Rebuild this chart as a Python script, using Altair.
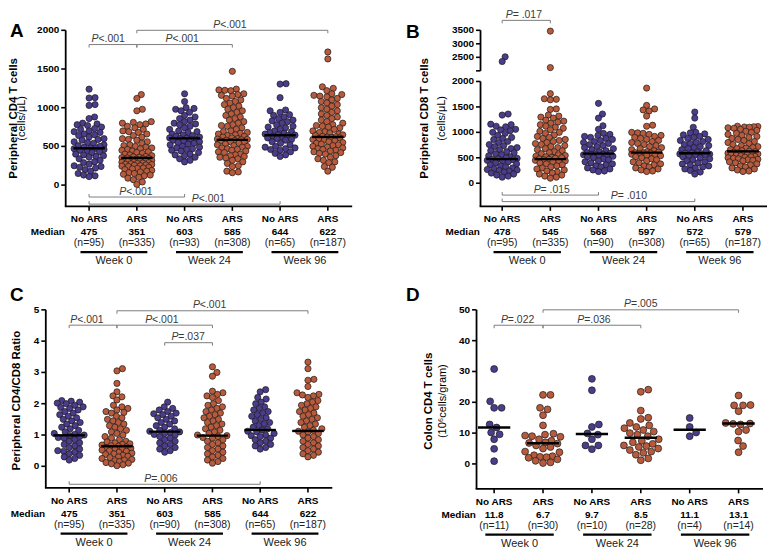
import altair as alt
import pandas as pd

FONT = "Liberation Sans"
PURPLE = "#4b3c8c"
ORANGE = "#b85a3c"

ARMS = ["No ARS", "ARS", "No ARS", "ARS", "No ARS", "ARS"]
WEEKS = ["Week 0", "Week 24", "Week 96"]

# ---------------- Panel A : peripheral CD4 (cells/uL) ----------------
A_g0 = [1240, 1130, 1125, 1040, 1030, 880, 860, 800, 790, 780, 770, 750, 730, 720, 700, 690, 680, 660, 650,
        640, 620, 600, 590, 580, 560, 550, 540, 520, 510, 500, 490, 480, 475, 470, 460, 450, 440, 430, 420,
        400, 390, 380, 370, 360, 340, 320, 300, 290, 270, 250, 240, 230, 220, 200, 180, 150, 130, 120, 110]
A_g1 = [1170, 1120, 980, 960, 820, 810, 800, 790, 780, 760, 740, 720, 700, 690, 680, 660, 640, 620, 600, 590,
        580, 560, 540, 520, 510, 500, 490, 480, 470, 460, 450, 440, 430, 420, 410, 400, 390, 380, 370, 365,
        360, 355, 350, 345, 340, 335, 330, 325, 320, 315, 310, 305, 300, 295, 290, 285, 280, 275, 270, 265,
        260, 255, 250, 245, 240, 230, 220, 215, 210, 200, 190, 180, 170, 160, 150, 140, 130, 120, 100, 90,
        70, 40, 10]
A_g2 = [1180, 1080, 1000, 990, 980, 960, 940, 900, 880, 860, 840, 820, 800, 790, 780, 760, 740, 720, 700, 690,
        680, 660, 650, 640, 630, 620, 610, 605, 600, 595, 590, 580, 570, 560, 550, 540, 530, 520, 500, 490,
        480, 470, 460, 450, 440, 420, 400, 390, 380, 360, 340, 320, 300]
A_g3 = [1470, 1240, 1230, 1225, 1220, 1180, 1170, 1160, 1150, 1120, 1100, 1080, 1060, 1040, 1020, 1000, 980,
        960, 940, 920, 900, 880, 860, 840, 820, 800, 780, 770, 760, 740, 720, 700, 690, 680, 670, 660, 650,
        640, 630, 620, 610, 600, 595, 590, 585, 580, 575, 570, 560, 550, 540, 530, 520, 510, 500, 490, 480,
        470, 460, 450, 440, 430, 420, 400, 390, 380, 370, 360, 350, 340, 320, 300, 280, 250, 240, 180, 170, 160]
A_g4 = [1310, 1305, 1130, 970, 960, 940, 910, 900, 880, 860, 840, 830, 820, 800, 780, 760, 750, 740, 720, 700,
        690, 680, 670, 660, 650, 645, 640, 630, 620, 610, 600, 590, 580, 560, 540, 520, 500, 490, 480, 470,
        460, 450, 430, 410, 390, 370]
A_g5 = [1720, 1630, 1270, 1250, 1220, 1180, 1170, 1160, 1150, 1140, 1120, 1100, 1080, 1060, 1040, 1020, 1000,
        980, 960, 940, 920, 900, 880, 860, 840, 820, 800, 780, 770, 760, 750, 740, 720, 700, 690, 680, 670,
        660, 650, 640, 630, 625, 620, 615, 610, 600, 590, 580, 570, 560, 550, 540, 530, 520, 510, 500, 490,
        480, 470, 460, 450, 440, 430, 420, 410, 400, 380, 360, 340, 320, 300, 290, 240, 230, 180]
A_median = [475, 351, 603, 585, 644, 622]
A_median_txt = ["475", "351", "603", "585", "644", "622"]
A_n = ["(n=95)", "(n=335)", "(n=93)", "(n=308)", "(n=65)", "(n=187)"]
A_ticks = [0, 500, 1000, 1500, 2000]
# (from group, to group, level, p label, text centre, tick direction)
A_brackets = [(0, 1, 1816, "P<.001", 0.4, "down"), (1, 3, 1816, "P<.001", 1.95, "down"),
              (1, 5, 2000, "P<.001", 2.95, "down"), (0, 2, -154, "P<.001", 0.98, "up"),
              (0, 4, -246, "P<.001", 2.5, "up")]

# ---------------- Panel B : peripheral CD8 (cells/uL), broken axis ----------------
B_g0 = [2520, 2345, 1360, 1340, 1160, 1150, 1120, 1110, 1060, 1050, 1030, 1000, 980, 940, 900, 880, 860, 820,
        800, 760, 740, 720, 700, 680, 660, 640, 620, 600, 580, 560, 540, 520, 500, 490, 480, 470, 460, 450,
        440, 420, 400, 380, 360, 340, 320, 300, 280, 270, 260, 250, 240, 220, 200, 180, 160, 140, 120]
B_g1 = [3470, 2120, 1760, 1660, 1650, 1640, 1460, 1450, 1340, 1320, 1300, 1280, 1240, 1220, 1200, 1180, 1150,
        1120, 1100, 1080, 1050, 1020, 1000, 980, 950, 920, 900, 880, 860, 840, 820, 800, 780, 760, 740, 720,
        700, 680, 660, 640, 620, 600, 580, 560, 545, 530, 520, 510, 500, 490, 480, 470, 460, 450, 440, 430,
        420, 400, 380, 360, 340, 320, 300, 280, 260, 240, 220, 200, 180, 160, 140, 120, 100]
B_g2 = [1570, 1360, 1280, 1130, 1060, 980, 960, 940, 920, 900, 880, 860, 840, 820, 800, 780, 760, 740, 720, 700,
        680, 660, 640, 620, 600, 590, 580, 570, 565, 560, 550, 540, 530, 520, 500, 480, 460, 440, 420, 400,
        380, 360, 340, 320, 300, 280, 260, 240, 230]
B_g3 = [1870, 1530, 1460, 1440, 1420, 1320, 1140, 1120, 1000, 990, 980, 960, 940, 920, 900, 880, 860, 840, 820,
        800, 780, 760, 740, 720, 700, 680, 660, 640, 620, 610, 600, 597, 590, 580, 570, 560, 550, 540, 520,
        500, 480, 460, 440, 420, 400, 380, 360, 340, 320, 300, 280, 260, 240, 230]
B_g4 = [1400, 1280, 1100, 1000, 990, 970, 950, 920, 900, 880, 860, 840, 820, 800, 780, 760, 740, 720, 700, 680,
        660, 640, 620, 600, 590, 580, 575, 570, 560, 550, 540, 520, 500, 480, 460, 440, 420, 400, 380, 360,
        340, 320, 300, 280, 250, 220, 180]
B_g5 = [1120, 1115, 1110, 1105, 1100, 1090, 1080, 1060, 1040, 1020, 1000, 980, 960, 940, 920, 900, 880, 860,
        840, 820, 800, 780, 760, 740, 720, 700, 690, 680, 660, 640, 630, 620, 610, 600, 590, 585, 580, 575,
        570, 560, 550, 540, 530, 520, 510, 500, 490, 480, 470, 460, 450, 440, 420, 400, 380, 360, 340, 320,
        300, 280, 260, 240, 230]
B_median = [474, 474, 582, 601, 588, 626]
B_median_txt = ["478", "545", "568", "597", "572", "579"]
B_n = ["(n=95)", "(n=335)", "(n=90)", "(n=308)", "(n=65)", "(n=187)"]
B_ticks = [0, 500, 1000, 1500, 2000, 2500, 3000, 3500]
B_brackets = [(0, 1, 3868, "P = .017", 0.42, "down"), (0, 2, -233, "P = .015", 1.0, "up"),
              (0, 4, -361, "P = .010", 2.6, "up")]
B_break = 2000          # axis is cut above this value
B_gap = 209             # size of the cut, in lower-segment units
B_upper_ratio = 0.531   # upper segment is compressed by this factor

# ---------------- Panel C : CD4/CD8 ratio ----------------
C_g0 = [2.1, 2.08, 2.05, 2.02, 2.0, 1.95, 1.9, 1.88, 1.85, 1.8, 1.75, 1.7, 1.65, 1.6, 1.55, 1.5, 1.45, 1.4,
        1.35, 1.3, 1.25, 1.2, 1.15, 1.1, 1.05, 1.02, 1.0, 0.98, 0.95, 0.92, 0.9, 0.85, 0.8, 0.75, 0.7, 0.65,
        0.6, 0.55, 0.5, 0.48, 0.45, 0.4, 0.35, 0.3, 0.25, 0.2]
C_g1 = [3.12, 3.05, 2.65, 2.38, 2.25, 2.22, 2.12, 1.95, 1.9, 1.85, 1.8, 1.75, 1.72, 1.7, 1.6, 1.55, 1.5, 1.45,
        1.4, 1.35, 1.3, 1.25, 1.2, 1.15, 1.1, 1.05, 1.0, 0.95, 0.9, 0.85, 0.8, 0.78, 0.75, 0.72, 0.7, 0.68,
        0.66, 0.64, 0.62, 0.6, 0.58, 0.56, 0.54, 0.52, 0.5, 0.48, 0.45, 0.42, 0.4, 0.38, 0.35, 0.32, 0.3,
        0.28, 0.25, 0.22, 0.2, 0.18, 0.15, 0.12, 0.1, 0.08, 0.05, 0.02]
C_g2 = [2.05, 1.9, 1.85, 1.8, 1.75, 1.7, 1.68, 1.65, 1.6, 1.55, 1.5, 1.45, 1.4, 1.35, 1.3, 1.25, 1.2, 1.15,
        1.12, 1.1, 1.08, 1.05, 1.02, 1.0, 0.95, 0.9, 0.85, 0.8, 0.75, 0.7, 0.65, 0.6, 0.55, 0.5, 0.45]
C_g3 = [3.18, 3.0, 2.88, 2.4, 2.35, 2.3, 2.25, 2.2, 2.1, 2.0, 1.95, 1.9, 1.85, 1.8, 1.75, 1.7, 1.65, 1.6,
        1.55, 1.5, 1.45, 1.4, 1.35, 1.3, 1.25, 1.2, 1.15, 1.1, 1.05, 1.0, 0.98, 0.95, 0.92, 0.9, 0.85, 0.8,
        0.75, 0.7, 0.65, 0.6, 0.55, 0.5, 0.45, 0.4, 0.35, 0.3, 0.25, 0.2, 0.15, 0.1]
C_g4 = [2.45, 2.38, 2.2, 2.15, 2.05, 2.0, 1.9, 1.85, 1.8, 1.75, 1.7, 1.65, 1.6, 1.55, 1.5, 1.45, 1.4, 1.35,
        1.3, 1.25, 1.2, 1.16, 1.12, 1.1, 1.05, 1.0, 0.98, 0.95, 0.9, 0.85, 0.8, 0.75, 0.7, 0.65, 0.6, 0.55]
C_g5 = [3.33, 3.12, 2.78, 2.75, 2.55, 2.35, 2.3, 2.28, 2.25, 2.2, 2.1, 2.05, 2.0, 1.95, 1.9, 1.85, 1.8, 1.75,
        1.7, 1.65, 1.6, 1.55, 1.5, 1.45, 1.4, 1.35, 1.3, 1.25, 1.2, 1.15, 1.12, 1.1, 1.05, 1.0, 0.95, 0.9,
        0.85, 0.8, 0.75, 0.7, 0.65, 0.6, 0.55, 0.5, 0.45, 0.4, 0.35, 0.3]
C_median = [0.99, 0.64, 1.11, 0.98, 1.16, 1.13]
C_median_txt = ["475", "351", "603", "585", "644", "622"]
C_n = ["(n=95)", "(n=335)", "(n=90)", "(n=308)", "(n=65)", "(n=187)"]
C_ticks = [0, 1, 2, 3, 4, 5]
C_brackets = [(0, 1, 4.51, "P<.001", 0.37, "down"), (1, 3, 4.51, "P<.001", 1.94, "down"),
              (2, 3, 3.95, "P=.037", 2.49, "down"), (1, 5, 4.97, "P<.001", 2.94, "down"),
              (0, 4, -0.574, "P=.006", 1.92, "up")]

# ---------------- Panel D : colon CD4 (10^6 cells/gram) ----------------
D_g0 = [30.8, 20.3, 18.2, 18.2, 12.8, 11.8, 10.2, 9.6, 8.0, 4.9, 0.9]
D_g1 = [22.4, 22.4, 18.2, 17.7, 15.8, 12.5, 9.8, 9.5, 9.2, 9.0, 8.8, 8.0, 7.5, 7.0, 6.8, 6.6, 6.0, 5.5, 5.0,
        4.0, 3.8, 2.8, 2.5, 2.3, 2.2, 2.0, 1.5, 1.0, 0.5, 0.3]
D_g2 = [27.6, 23.9, 12.8, 12.0, 9.9, 9.5, 8.0, 6.0, 6.0, 4.8]
D_g3 = [24.1, 23.4, 17.3, 15.0, 14.6, 13.3, 12.5, 12.0, 11.6, 11.0, 10.5, 10.0, 9.5, 9.0, 8.0, 7.5, 7.0, 6.5,
        6.0, 5.8, 5.5, 5.0, 4.5, 4.0, 3.6, 3.0, 1.8, 1.2]
D_g4 = [14.9, 12.0, 10.2, 9.0]
D_g5 = [22.2, 19.1, 19.0, 19.0, 17.1, 13.3, 13.1, 13.0, 12.8, 11.0, 10.5, 7.6, 5.8, 3.8]
D_median = [11.8, 6.7, 9.7, 8.5, 11.1, 13.1]
D_median_txt = ["11.8", "6.7", "9.7", "8.5", "11.1", "13.1"]
D_n = ["(n=11)", "(n=30)", "(n=10)", "(n=28)", "(n=4)", "(n=14)"]
D_ticks = [0, 10, 20, 30, 40, 50]
D_brackets = [(0, 1, 45.0, "P=.022", 0.48, "down"), (1, 3, 45.0, "P=.036", 2.04, "down"),
              (1, 5, 50.0, "P=.005", 3.0, "down")]

# ---------------------------------------------------------------------
CW = {"P": 0.667, "<": 0.584, "=": 0.584, ".": 0.278, " ": 0.278, "\u00a0": 0.278}
PFS = 10.5
AXW = 1.8


def text_w(s, fs):
    return sum(CW.get(c, 0.556) for c in s) * fs


def ident(v):
    return v


def b_transform(v):
    if v <= B_break:
        return v
    return B_break + B_gap + (v - B_break) * B_upper_ratio


def swarm(pix, maxw, mind):
    order = sorted(range(len(pix)), key=lambda i: pix[i])
    cands = [0.0]
    k = 0.5
    while k <= maxw:
        cands += [k, -k]
        k += 0.5
    placed = []
    res = [0.0] * len(pix)
    for i in order:
        y = pix[i]
        near = [(px, py) for px, py in placed if abs(py - y) < mind]
        chosen, best, bestc = None, -1, 0.0
        for c in cands:
            d = min([((c - px) ** 2 + (y - py) ** 2) ** 0.5 for px, py in near], default=99)
            if d >= mind:
                chosen = c
                break
            if d > best:
                best, bestc = d, c
        if chosen is None:
            chosen = bestc
        placed.append((chosen, y))
        res[i] = chosen
    return res


def one(**kw):
    return pd.DataFrame({k: [v] for k, v in kw.items()})


def panel(letter, letter_xy, titles, title_yf, groups, med, med_txt, ns, brackets, xdom, ydom, H, W,
          ticks, dot, maxw, mind, lead=0, tf=ident, segments=None, blank_ticks=()):
    ppy = H / (ydom[1] - ydom[0])
    ppx = W / (xdom[1] - xdom[0])
    xdom_full = [xdom[0] - lead / ppx, xdom[1]]
    WW = W + lead
    xs = alt.Scale(domain=xdom_full, nice=False, zero=False)
    ys = alt.Scale(domain=ydom, nice=False, zero=False)
    X = lambda f="x": alt.X(f + ":Q", scale=xs, axis=None)
    Y = lambda f="y": alt.Y(f + ":Q", scale=ys, axis=None)

    rows = []
    for g, vals in enumerate(groups):
        pix = [tf(v) * ppy for v in vals]
        offs = swarm(pix, maxw, mind)
        for v, o in zip(vals, offs):
            rows.append({"x": g + o / ppx, "y": tf(v), "arm": ARMS[g]})
    df = pd.DataFrame(rows)

    layers = []
    # ---- y axis (line, ticks, labels) drawn through the y scale
    if segments is None:
        segments = ([ydom[0]], [ydom[1]])
    dfa = pd.DataFrame({"y": segments[0], "y2": segments[1]})
    layers.append(alt.Chart(dfa).mark_rule(color="black", strokeWidth=AXW).encode(
        x=alt.value(lead), y=Y(), y2="y2:Q"))
    dft = pd.DataFrame({"y": [tf(t) for t in ticks] + list(blank_ticks),
                        "lab": [str(t) for t in ticks] + [""] * len(blank_ticks)})
    layers.append(alt.Chart(dft).mark_rule(color="black", strokeWidth=1.6).encode(
        x=alt.value(lead - 4.5), x2=alt.value(lead), y=Y()))
    layers.append(alt.Chart(dft).mark_text(font=FONT, fontSize=10, fontWeight="bold", align="right",
                                           baseline="middle", color="black").encode(
        x=alt.value(lead - 6.5), y=Y(), text="lab:N"))
    # ---- x axis
    layers.append(alt.Chart(one(a=0)).mark_rule(color="black", strokeWidth=AXW).encode(
        x=alt.value(lead - 0.9), x2=alt.value(WW), y=alt.value(H)))
    dfg = pd.DataFrame({"x": list(range(6))})
    layers.append(alt.Chart(dfg).mark_rule(color="black", strokeWidth=1.6).encode(
        x=X(), y=alt.value(H), y2=alt.value(H + 4.5)))

    # ---- data points
    layers.append(alt.Chart(df).mark_circle(size=dot, stroke="#1a1a1a", strokeWidth=0.7, opacity=1).encode(
        x=X(), y=Y(),
        color=alt.Color("arm:N", scale=alt.Scale(domain=["No ARS", "ARS"], range=[PURPLE, ORANGE]), legend=None)))

    # ---- medians
    dfm = pd.DataFrame({"x": [g - 0.33 for g in range(6)], "x2": [g + 0.33 for g in range(6)],
                        "y": [tf(m) for m in med]})
    layers.append(alt.Chart(dfm).mark_rule(color="black", strokeWidth=2.4).encode(x=X(), x2="x2:Q", y=Y()))

    # ---- significance brackets (italic P, upright remainder)
    seg, ptxt = [], []
    for a, b, lev, lab, cx, d in brackets:
        lt = tf(lev)
        tick = 3.0 / ppy
        end = lt - tick if d == "down" else lt + tick
        seg.append({"x": a, "x2": b, "y": lt, "y2": lt})
        seg.append({"x": a, "x2": a, "y": lt, "y2": end})
        seg.append({"x": b, "x2": b, "y": lt, "y2": end})
        p_part = "P\u00a0" if lab[1] == " " else "P"
        rest = lab[len(p_part):]
        wt = text_w(lab, PFS)
        anchor = cx + (-wt / 2 + text_w(p_part, PFS)) / ppx
        ptxt.append({"x": anchor, "y": lt, "P": p_part, "rest": rest})
    layers.append(alt.Chart(pd.DataFrame(seg)).mark_rule(color="#7d7d7d", strokeWidth=1).encode(
        x=X(), x2="x2:Q", y=Y(), y2="y2:Q"))
    dfp = pd.DataFrame(ptxt)
    layers.append(alt.Chart(dfp).mark_text(font=FONT, fontSize=PFS, fontStyle="italic", align="right",
                                           baseline="alphabetic", dy=-2.5, color="#3a3a3a").encode(
        x=X(), y=Y(), text="P:N"))
    layers.append(alt.Chart(dfp).mark_text(font=FONT, fontSize=PFS, align="left", baseline="alphabetic",
                                           dy=-2.5, color="#3a3a3a").encode(x=X(), y=Y(), text="rest:N"))

    # ---- category labels under the axis
    dfl = pd.DataFrame({"x": list(range(6)), "arm": ARMS, "med": med_txt, "n": ns})
    layers.append(alt.Chart(dfl).mark_text(font=FONT, fontSize=10, fontWeight="bold", baseline="middle",
                                           color="black").encode(x=X(), y=alt.value(H + 13), text="arm:N"))
    layers.append(alt.Chart(dfl).mark_text(font=FONT, fontSize=10, fontWeight="bold", baseline="middle",
                                           color="black").encode(x=X(), y=alt.value(H + 26), text="med:N"))
    layers.append(alt.Chart(dfl).mark_text(font=FONT, fontSize=10.5, baseline="middle",
                                           color="#222222").encode(x=X(), y=alt.value(H + 37), text="n:N"))
    dfw = pd.DataFrame({"x": [0.52, 2.52, 4.52], "lo": [-0.18, 1.82, 3.82], "hi": [1.22, 3.22, 5.22],
                        "wk": WEEKS})
    layers.append(alt.Chart(dfw).mark_rule(color="black", strokeWidth=2.2).encode(
        x=X("lo"), x2="hi:Q", y=alt.value(H + 46)))
    layers.append(alt.Chart(dfw).mark_text(font=FONT, fontSize=11, baseline="middle", color="#222222").encode(
        x=X(), y=alt.value(H + 55), text="wk:N"))
    layers.append(alt.Chart(one(t="Median")).mark_text(font=FONT, fontSize=10, fontWeight="bold",
                                                        baseline="middle", color="black").encode(
        x=alt.value(lead - 18), y=alt.value(H + 26), text="t:N"))

    # ---- panel letter and axis titles
    layers.append(alt.Chart(one(t=letter)).mark_text(font=FONT, fontSize=19, fontWeight="bold", align="left",
                                                      baseline="middle", color="black").encode(
        x=alt.value(lead + letter_xy[0]), y=alt.value(letter_xy[1]), text="t:N"))
    for txt, tx, wgt, fs in titles:
        layers.append(alt.Chart(one(t=txt)).mark_text(font=FONT, fontSize=fs, fontWeight=wgt, angle=270,
                                                       align="center", baseline="middle", color="black").encode(
            x=alt.value(lead + tx), y=alt.value(H * title_yf), text="t:N"))

    return alt.layer(*layers).properties(width=WW, height=H)


W = 288
HA = 177
HC = 179
HD = 180
DOT = 39

pA = panel("A", (-56, 1), [("Peripheral CD4 T cells", -51.5, "bold", 11.5), ("(cells/\u03bcL)", -43.5, "normal", 11)],
           0.5, [A_g0, A_g1, A_g2, A_g3, A_g4, A_g5], A_median, A_median_txt, A_n, A_brackets,
           [-0.49, 5.51], [-275, 2000], HA, W, A_ticks, DOT, 15, 5.6, lead=20)

b_top = b_transform(B_ticks[-1])
b_up = B_break + B_gap
pB = panel("B", (-75, 2), [("Peripheral CD8 T cells", -56, "bold", 11.5), ("(cells/\u03bcL)", -38.5, "normal", 11)],
           0.5, [B_g0, B_g1, B_g2, B_g3, B_g4, B_g5], B_median, B_median_txt, B_n, B_brackets,
           [-0.45, 5.5], [-455, b_top], HA, W, B_ticks, DOT, 15, 5.6, lead=4,
           tf=b_transform, segments=([-455, b_up], [B_break, b_top]), blank_ticks=(b_up,))

pC = panel("C", (-36, -15), [("Peripheral CD4/CD8 Ratio", -29, "bold", 11.5)],
           0.51, [C_g0, C_g1, C_g2, C_g3, C_g4, C_g5], C_median, C_median_txt, C_n, C_brackets,
           [-0.49, 5.51], [-0.69, 5], HC, W, C_ticks, DOT, 15, 5.6, lead=0)

pD = panel("D", (-71, -15), [("Colon CD4 T cells", -48, "bold", 11.5), ("(10\u2076cells/gram)", -34, "normal", 11)],
           0.51, [D_g0, D_g1, D_g2, D_g3, D_g4, D_g5], D_median, D_median_txt, D_n, D_brackets,
           [-0.36, 5.5], [-8.1, 50], HD, W, D_ticks, 48, 18, 7.4, lead=0)

chart = alt.concat(pA, pB, pC, pD, columns=2, spacing={"row": 104, "column": 125}, bounds="flush").properties(
    padding=0, background="white"
).configure_view(stroke=None).configure_text(font=FONT)

chart.save("out.html", embed_options={"renderer": "svg", "actions": False})
